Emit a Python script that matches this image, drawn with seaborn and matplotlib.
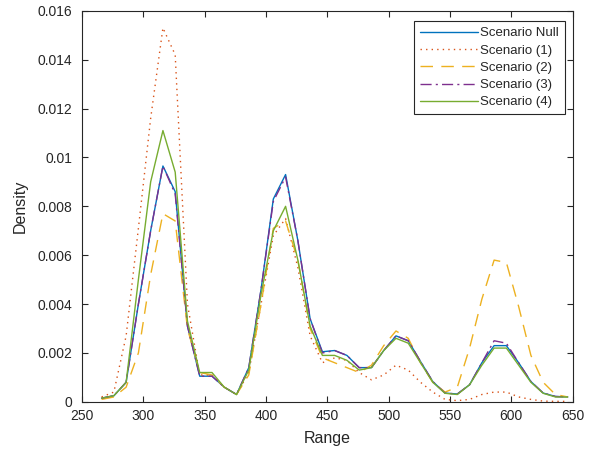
import matplotlib
matplotlib.use("Agg")
import matplotlib.pyplot as plt
import seaborn as sns
import pandas as pd
from matplotlib.ticker import FuncFormatter

# grid of ranges the densities were evaluated on
ranges = [266, 276, 286, 296, 306, 316, 326, 336, 346, 356,
          366, 376, 386, 396, 406, 416, 426, 436, 446, 456,
          466, 476, 486, 496, 506, 516, 526, 536, 546, 556,
          566, 576, 586, 596, 606, 616, 626, 636, 646]

null = [0.00015, 0.00025, 0.0008, 0.0040, 0.0070, 0.00965, 0.0086, 0.0031, 0.00105, 0.00105,
        0.0006, 0.0003, 0.0014, 0.0046, 0.0083, 0.0093, 0.0066, 0.0034, 0.00205, 0.0021,
        0.0019, 0.0014, 0.0014, 0.0021, 0.0027, 0.0025, 0.00165, 0.00083, 0.00036, 0.00032,
        0.0007, 0.0016, 0.0023, 0.0023, 0.0016, 0.00083, 0.00036, 0.00022, 0.0002]

s1 = [0.0002, 0.0004, 0.0027, 0.0071, 0.0116, 0.0153, 0.0142, 0.0040, 0.0011, 0.0011,
      0.0006, 0.0003, 0.0012, 0.0040, 0.0068, 0.0075, 0.0055, 0.0027, 0.0016, 0.0018,
      0.0017, 0.0012, 0.0009, 0.0011, 0.0015, 0.0013, 0.0008, 0.0004, 0.0001, 0.00005,
      0.0001, 0.0003, 0.0004, 0.0004, 0.0002, 0.0001, 0.00003, 0.00002, 0.00002]

s2 = [0.0001, 0.0002, 0.0006, 0.0020, 0.0052, 0.0077, 0.0074, 0.0030, 0.0012, 0.0011,
      0.0006, 0.0003, 0.0011, 0.0040, 0.0071, 0.0074, 0.0058, 0.0030, 0.0018, 0.0016,
      0.0014, 0.0012, 0.0015, 0.0023, 0.0029, 0.0026, 0.0016, 0.0008, 0.0004, 0.0006,
      0.0022, 0.0042, 0.0058, 0.0057, 0.0039, 0.0019, 0.0008, 0.0003, 0.0002]

s3 = [0.00015, 0.00025, 0.0008, 0.0040, 0.0070, 0.00965, 0.0085, 0.0031, 0.00105, 0.00105,
      0.0006, 0.0003, 0.0014, 0.0046, 0.0082, 0.0092, 0.0066, 0.0034, 0.0020, 0.0021,
      0.0019, 0.0014, 0.0014, 0.0021, 0.0027, 0.0025, 0.00165, 0.00083, 0.00036, 0.00032,
      0.0007, 0.0016, 0.0025, 0.0024, 0.0016, 0.00083, 0.00036, 0.00022, 0.0002]

s4 = [0.00015, 0.00025, 0.0008, 0.0050, 0.0090, 0.0111, 0.0094, 0.0033, 0.0012, 0.0012,
      0.0006, 0.0003, 0.0013, 0.0044, 0.0070, 0.0080, 0.0058, 0.0031, 0.0019, 0.0019,
      0.0017, 0.0013, 0.0014, 0.0021, 0.0026, 0.0024, 0.0016, 0.0008, 0.00035, 0.0003,
      0.0007, 0.0015, 0.0022, 0.0022, 0.0015, 0.0008, 0.00035, 0.0002, 0.0002]

labels = ["Scenario Null", "Scenario (1)", "Scenario (2)", "Scenario (3)", "Scenario (4)"]
series = [null, s1, s2, s3, s4]
colors = ["#0072BD", "#D95319", "#EDB120", "#7E2F8E", "#77AC30"]
styles = ["-", (0, (1, 3)), (0, (9, 6)), (0, (8, 3, 1.5, 3)), "-"]

sns.set_style("ticks")
plt.rcParams["font.family"] = ["Liberation Sans", "DejaVu Sans"]

fig = plt.figure(figsize=(5.94, 4.5), dpi=100)
ax = fig.add_axes([0.138, 0.107, 0.826, 0.869])

for lab, vals, col, ls in zip(labels, series, colors, styles):
    df = pd.DataFrame({"Range": ranges, "Density": vals})
    sns.lineplot(data=df, x="Range", y="Density", ax=ax, color=col,
                 linestyle=ls, linewidth=1.0, label=lab)

ax.set_xlim(250, 650)
ax.set_ylim(0, 0.016)
ax.set_xticks(range(250, 651, 50))
ax.set_yticks([i * 0.002 for i in range(9)])
ax.yaxis.set_major_formatter(FuncFormatter(lambda v, p: "%g" % round(v, 4)))

edge = "#262626"
for sp in ax.spines.values():
    sp.set_visible(True)
    sp.set_color(edge)
    sp.set_linewidth(0.8)
ax.tick_params(direction="in", length=4, width=0.8, colors=edge,
               labelsize=10, top=True, right=True, labelcolor="#262626")
ax.tick_params(axis="y", pad=7)
ax.tick_params(axis="x", pad=5)
ax.set_xlabel("Range", fontsize=11.5, color="#262626", labelpad=6)
ax.set_ylabel("Density", fontsize=11.5, color="#262626", labelpad=7)

leg = ax.legend(loc="upper right", bbox_to_anchor=(0.99, 0.98), fontsize=9.5,
                handlelength=4.4, handletextpad=0.2, labelspacing=0.38,
                borderpad=0.45, borderaxespad=0.2, fancybox=False, framealpha=1)
leg.get_frame().set_edgecolor(edge)
leg.get_frame().set_linewidth(0.8)

fig.savefig("out.png", dpi=100)
